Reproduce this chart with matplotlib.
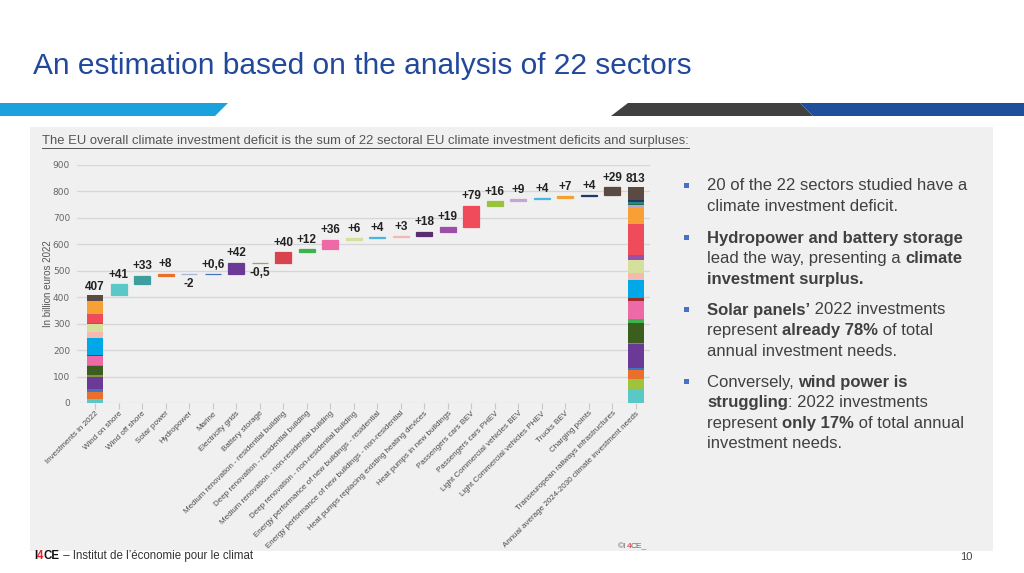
import matplotlib.pyplot as plt
from matplotlib.patches import Polygon, Rectangle

# ---- data ----
categories = [
    "Investments in 2022", "Wind on shore", "Wind off shore", "Solar power",
    "Hydropower", "Marine", "Electricity grids", "Battery storage",
    "Medium renovation - residential building", "Deep renovation - residential building",
    "Medium renovation - non-residential building", "Deep renovation - non-residential building",
    "Energy performance of new buildings - residential",
    "Energy performance of new buildings - non-residential",
    "Heat pumps replacing existing heating devices", "Heat pumps in new buildings",
    "Passengers cars BEV", "Passengers cars PHEV", "Light Commercial vehicles BEV",
    "Light Commercial vehicles PHEV", "Trucks BEV", "Charging points",
    "Transeuropean railways infrastructures",
    "Annual average 2024-2030 climate investment needs",
]
# investment gap per sector (needs minus 2022 investments), bn EUR
gaps = [41, 33, 8, -2, 0.6, 42, -0.5, 40, 12, 36, 6, 4, 3, 18, 19, 79, 16, 9, 4, 7, 4, 29]
# 2022 investments per sector (stack of the first bar)
invest_2022 = [13, 2, 28, 9, 0.2, 47, 6, 35, 4, 32, 5, 64, 25, 29, 2, 35, 45, 3, 1, 0.5, 1.5, 20]
totals = [407, 813]

gap_colors = ["#5BC8C8", "#3E9E9E", "#E8702A", "#A9B4DC", "#4472C4", "#6B3A96", "#A0A060",
              "#D9434E", "#3CB44B", "#EE6AA7", "#D4E09B", "#48B6E0", "#F2B8B8", "#5B2C6F",
              "#9B4FA8", "#EF4B5A", "#9BC23C", "#C3A6D6", "#48B6E0", "#F4A030", "#1F3864",
              "#5A4A42"]
stack_colors = ["#5BC8C8", "#9DC43C", "#E8702A", "#4472C4", "#A9B4DC", "#6B3A96", "#8C8C4A",
                "#3B5E1E", "#3CB44B", "#EE6AA7", "#9E2B2B", "#00A8E8", "#F6B9B0", "#D4E09B",
                "#9B4FA8", "#EF4B5A", "#F7A035", "#B9A5D6", "#2E6B3A", "#1A8C8C", "#1F3864",
                "#5A4A42"]

NARROW = ["Liberation Sans Narrow", "Liberation Sans", "DejaVu Sans"]
SANS = ["Liberation Sans", "DejaVu Sans"]

fig = plt.figure(figsize=(10.24, 5.73), dpi=100)
fig.patch.set_facecolor("white")

# overlay in pixel coordinates for the slide decoration
bg = fig.add_axes([0, 0, 1, 1], zorder=0)
bg.set_xlim(0, 1024)
bg.set_ylim(573, 0)
bg.axis("off")

bg.text(33, 66, "An estimation based on the analysis of 22 sectors", fontsize=21.5,
        color="#21489A", family=SANS, va="center", ha="left")
bg.add_patch(Polygon([(0, 103), (228, 103), (215, 116), (0, 116)], color="#1BA1DB", lw=0))
bg.add_patch(Polygon([(628, 103), (800, 103), (813, 116), (611, 116)], color="#404040", lw=0))
bg.add_patch(Polygon([(800, 103), (1024, 103), (1024, 116), (813, 116)], color="#1F4E9A", lw=0))
bg.add_patch(Rectangle((30, 127), 963, 424, color="#F0F0F0", lw=0))

fig.canvas.draw()
renderer = fig.canvas.get_renderer()

sub = bg.text(42, 141, "The EU overall climate investment deficit is the sum of 22 sectoral EU "
              "climate investment deficits and surpluses:", fontsize=9.4, color="#555555",
              family=NARROW, va="center", ha="left")
w = sub.get_window_extent(renderer).width
bg.plot([42, 42 + w], [148, 148], color="#555555", lw=0.7)


def rich_line(x, y, runs, size=12, color="#404040"):
    for txt, bold in runs:
        t = bg.text(x, y, txt, fontsize=size, color=color, family=SANS, va="center",
                    ha="left", fontweight="bold" if bold else "normal")
        x += t.get_window_extent(renderer).width


bullets = [
    (186, [[("20 of the 22 sectors studied have a", False)],
           [("climate investment deficit.", False)]]),
    (238, [[("Hydropower and battery storage", True)],
           [("lead the way, presenting a ", False), ("climate", True)],
           [("investment surplus.", True)]]),
    (310, [[("Solar panels’", True), (" 2022 investments", False)],
           [("represent ", False), ("already 78%", True), (" of total", False)],
           [("annual investment needs.", False)]]),
    (382, [[("Conversely, ", False), ("wind power is", True)],
           [("struggling", True), (": 2022 investments", False)],
           [("represent ", False), ("only 17%", True), (" of total annual", False)],
           [("investment needs.", False)]]),
]
for y0, lines in bullets:
    bg.add_patch(Rectangle((684, y0 - 3), 5, 5, color="#4472C4", lw=0))
    for k, runs in enumerate(lines):
        rich_line(707, y0 + k * 20.6, runs)

# footer
rich_line(34, 556, [("I", True)], size=8.3, color="#111111")
x_f = 34 + bg.texts[-1].get_window_extent(renderer).width
bg.text(x_f, 556, "4", fontsize=8.3, color="#E0202A", fontweight="bold", family=SANS, va="center")
x_f += bg.texts[-1].get_window_extent(renderer).width
bg.text(x_f, 556, "CE", fontsize=8.3, color="#111111", fontweight="bold", family=SANS, va="center")
x_f += bg.texts[-1].get_window_extent(renderer).width
bg.text(x_f, 556, " – Institut de l’économie pour le climat", fontsize=8.3, color="#333333",
        family=SANS, va="center")
bg.text(966, 557, "10", fontsize=8, color="#444444", family=SANS, va="center", ha="center")
bg.text(618, 546, "©I", fontsize=6, color="#666666", family=SANS, va="center")
x_c = 618 + bg.texts[-1].get_window_extent(renderer).width
bg.text(x_c, 546, "4", fontsize=6, color="#E0202A", family=SANS, va="center")
x_c += bg.texts[-1].get_window_extent(renderer).width
bg.text(x_c, 546, "CE_", fontsize=6, color="#666666", family=SANS, va="center")

# ---- waterfall chart ----
ax = fig.add_axes([77 / 1024, 1 - 403 / 573, (650 - 77) / 1024, (403 - 165) / 573], zorder=1)
ax.patch.set_alpha(0)
ax.set_ylim(0, 900)
ax.set_xlim(-0.77, 23.6)
ax.set_yticks(range(0, 901, 100))
ax.yaxis.grid(True, color="#D6D6D6", lw=0.9)
ax.set_axisbelow(True)
for s in ax.spines.values():
    s.set_visible(False)
ax.tick_params(axis="y", length=0, labelsize=6.5, labelcolor="#666666", pad=5)
ax.tick_params(axis="x", length=4, color="#C8C8C8", labelsize=5.8, labelcolor="#4A4A4A", pad=1)
ax.set_ylabel("In billion euros 2022", fontsize=7, color="#555555", labelpad=0, family=SANS)

bw = 0.68
n = len(gaps)
last = n + 1

# stacked total bars
bottom_a = 0
bottom_b = 0
for i in range(n):
    ax.bar(0, invest_2022[i], bottom=bottom_a, width=bw, color=stack_colors[i], lw=0)
    need = invest_2022[i] + gaps[i]
    ax.bar(last, need, bottom=bottom_b, width=bw, color=stack_colors[i], lw=0)
    bottom_a += invest_2022[i]
    bottom_b += need

lab_kw = dict(fontsize=8.5, fontweight="bold", color="#222222", family=NARROW, ha="center")
ax.annotate(str(totals[0]), (0, bottom_a), xytext=(0, 2), textcoords="offset points",
            va="bottom", **lab_kw)
ax.annotate(str(totals[1]), (last, bottom_b), xytext=(0, 2), textcoords="offset points",
            va="bottom", **lab_kw)

# floating gap bars
cum = bottom_a
for i, g in enumerate(gaps):
    x = i + 1
    lo = min(cum, cum + g)
    ax.bar(x, abs(g), bottom=lo, width=bw, color=gap_colors[i], edgecolor=gap_colors[i], lw=0.9)
    lab = f"{g:+g}".replace(".", ",")
    if g >= 0:
        ax.annotate(lab, (x, cum + g), xytext=(0, 2.5), textcoords="offset points",
                    va="bottom", **lab_kw)
    else:
        ax.annotate(lab, (x, lo), xytext=(0, -2.5), textcoords="offset points",
                    va="top", **lab_kw)
    cum += g

ax.set_xticks(range(len(categories)))
ax.set_xticklabels(categories, rotation=45, ha="right", va="top", rotation_mode="anchor",
                   family=NARROW)

fig.savefig("out.png", dpi=100)
